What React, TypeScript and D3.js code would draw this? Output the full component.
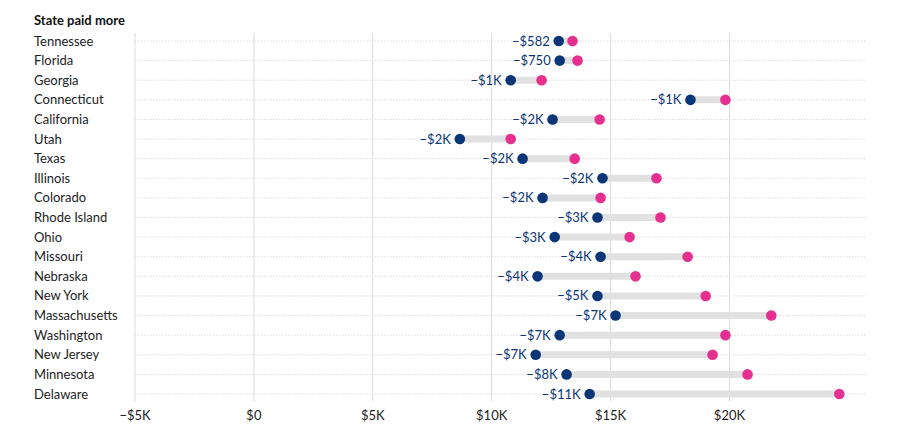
import React from 'react';
import * as d3 from 'd3';

const states = [
  'Tennessee', 'Florida', 'Georgia', 'Connecticut', 'California', 'Utah', 'Texas',
  'Illinois', 'Colorado', 'Rhode Island', 'Ohio', 'Missouri', 'Nebraska', 'New York',
  'Massachusetts', 'Washington', 'New Jersey', 'Minnesota', 'Delaware',
];
// lower value (navy) and higher value (pink), in dollars
const lowValues = [
  12820, 12860, 10800, 18360, 12560, 8660, 11300, 14660, 12140, 14450, 12650,
  14580, 11930, 14450, 15210, 12860, 11850, 13150, 14120,
];
const highValues = [
  13400, 13610, 12100, 19830, 14540, 10800, 13490, 16930, 14580, 17100, 15800,
  18240, 16050, 19000, 21760, 19830, 19290, 20760, 24620,
];
const diffLabels = [
  '−$582', '−$750', '−$1K', '−$1K', '−$2K', '−$2K', '−$2K', '−$2K', '−$2K', '−$3K',
  '−$3K', '−$4K', '−$4K', '−$5K', '−$7K', '−$7K', '−$7K', '−$8K', '−$11K',
];
const xTicks = [-5000, 0, 5000, 10000, 15000, 20000];
const xTickLabels = ['−$5K', '$0', '$5K', '$10K', '$15K', '$20K'];

const W = 912;
const H = 438;
const NAVY = '#0a3677';
const PINK = '#e6308f';
const FONT = '"Source Sans Pro", Lato, "Noto Sans", sans-serif';

export default function App() {
  const x = d3.scaleLinear().domain([-5000, 25700]).range([135, 865]);
  const y = d3.scalePoint<string>().domain(states).range([41, 394]);

  return (
    <svg width={W} height={H} style={{ position: 'absolute', left: 0, top: 0, background: '#fff' }} fontFamily={FONT}>
      <text x={34} y={25} fontSize={13} fontWeight={700} fill="#111">State paid more</text>

      {/* vertical gridlines */}
      {xTicks.map(t => (
        <line key={t} x1={x(t)} x2={x(t)} y1={33} y2={401} stroke="#dcdcdc" strokeWidth={1} />
      ))}

      {/* row lines + labels */}
      {states.map(s => (
        <g key={s}>
          <line x1={135} x2={865} y1={y(s)} y2={y(s)} stroke="#d6d6d6" strokeWidth={0.8} strokeDasharray="1.5,1.5" />
          <text x={34} y={(y(s) as number) + 4.5} fontSize={13} fill="#222">{s}</text>
        </g>
      ))}

      {/* dumbbells */}
      {states.map((s, i) => {
        const cy = y(s) as number;
        return (
          <g key={s + '-d'}>
            <line x1={x(lowValues[i])} x2={x(highValues[i])} y1={cy} y2={cy} stroke="#e1e1e1" strokeWidth={7} />
            <circle cx={x(highValues[i])} cy={cy} r={5.3} fill={PINK} />
            <circle cx={x(lowValues[i])} cy={cy} r={5.3} fill={NAVY} />
            <text x={x(lowValues[i]) - 9} y={cy + 4.5} fontSize={13} fill={NAVY} textAnchor="end">{diffLabels[i]}</text>
          </g>
        );
      })}

      {/* x axis labels */}
      {xTicks.map((t, i) => (
        <text key={'l' + t} x={x(t)} y={420} fontSize={13} fill="#222" textAnchor="middle">{xTickLabels[i]}</text>
      ))}
    </svg>
  );
}
